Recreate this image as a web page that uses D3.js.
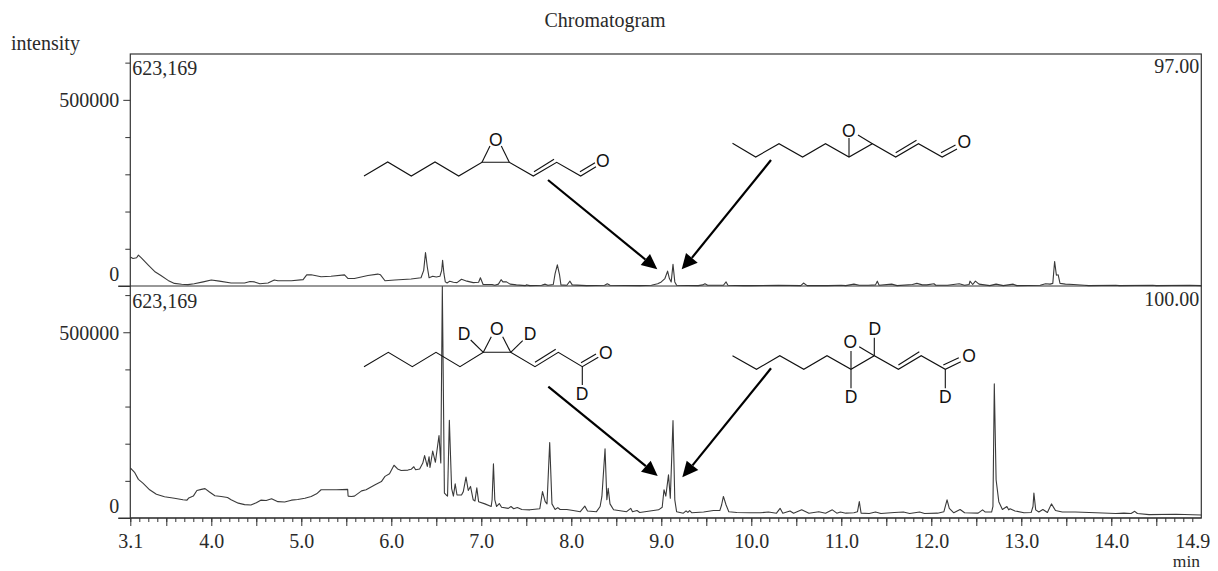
<!DOCTYPE html>
<html>
<head>
<meta charset="utf-8">
<title>Chromatogram</title>
<script src="https://d3js.org/d3.v7.min.js"></script>
<style>
    html, body { margin: 0; padding: 0; background: #fff; }
    svg { display: block; }
    text { font-family: "Liberation Serif", serif; font-size: 20px; fill: #2a2a2a; }
    .atom { font-family: "Liberation Sans", sans-serif; font-size: 17.5px; fill: #111; text-anchor: middle; dominant-baseline: central; }
</style>
</head>
<body>
<div id="chart"></div>
<script>
// [time in min, intensity in thousands]
const topTrace = [
    [3.10,78],[3.13,74],[3.17,76],[3.19,83],[3.22,76],[3.30,56],[3.37,39],[3.44,28],[3.52,15],[3.59,7],
    [3.67,4.5],[3.74,3.6],[3.81,6],[3.91,11],[4.00,16],[4.09,13],[4.22,8],[4.37,8],[4.43,12],[4.48,11],
    [4.54,6],[4.63,8],[4.70,16],[4.74,14],[4.89,14],[5.02,17],[5.06,30],[5.11,30],[5.22,25],[5.33,26],
    [5.48,30],[5.52,20],[5.59,20],[5.74,28],[5.85,32],[5.88,30],[5.93,14],[6.04,16],[6.22,19],[6.33,22],
    [6.36,42],[6.38,90],[6.40,51],[6.42,22],[6.46,26],[6.50,24],[6.54,26],[6.56,42],[6.57,69],[6.585,33],
    [6.60,11],[6.62,8],[6.65,13],[6.69,10],[6.73,9],[6.78,18],[6.84,13],[6.91,9],[6.97,10],[6.99,22],
    [7.02,4],[7.12,4],[7.15,2],[7.19,5],[7.22,17],[7.24,11],[7.28,11],[7.32,5],[7.39,3],[7.49,1],
    [7.50,3],[7.54,1],[7.67,2],[7.71,5],[7.74,2],[7.80,4],[7.82,33],[7.845,57],[7.87,29],[7.885,3],
    [7.95,2],[7.985,13],[8.01,3],[8.17,1],[8.37,2],[8.40,6],[8.43,2],[8.76,1],[8.89,2],[8.96,6],
    [9.00,11],[9.04,20],[9.07,40],[9.09,20],[9.11,11],[9.13,58],[9.15,11],[9.17,2],[9.41,1],[9.46,3],
    [9.485,6],[9.515,2],[9.69,2],[9.72,11],[9.74,2],[9.91,1],[10.00,1],[10.30,2],[10.55,1],[10.58,8],
    [10.62,1],[10.85,1],[11.00,2],[11.05,1],[11.14,5],[11.20,2],[11.30,2],[11.38,3],[11.40,13],[11.42,2],
    [11.56,5],[11.62,1],[11.79,4],[11.84,7],[11.90,3],[11.95,3],[12.03,6],[12.05,2],[12.18,2],[12.31,6],
    [12.37,2],[12.42,4],[12.43,13],[12.46,4],[12.49,13],[12.53,5],[12.65,1],[12.72,5],[12.80,1],[12.91,5],
    [12.95,1],[13.21,2],[13.27,6],[13.32,5],[13.35,7],[13.37,66],[13.39,29],[13.41,30],[13.43,7],[13.49,5],
    [13.58,4],[13.70,2],[13.75,1],[14.05,2],[14.09,1],[14.46,2],[14.50,1],[14.87,2],[15.00,1]
];

const bottomTrace = [
    [3.10,135],[3.15,122],[3.19,104],[3.24,94],[3.315,76],[3.39,64],[3.48,57],[3.59,53],[3.685,49],[3.73,48],
    [3.75,54],[3.80,59],[3.84,74],[3.89,77],[3.93,79],[3.98,70],[4.04,60],[4.11,58],[4.18,55],[4.22,49],
    [4.30,40],[4.37,36],[4.44,35],[4.50,41],[4.55,48],[4.61,47],[4.67,52],[4.74,44],[4.815,43],[4.89,48],
    [4.96,50],[5.04,53],[5.11,58],[5.17,65],[5.22,76],[5.28,76],[5.39,76],[5.515,77],[5.52,59],[5.555,58],
    [5.59,59],[5.67,73],[5.72,76],[5.815,89],[5.89,98],[5.93,112],[5.98,119],[6.03,142],[6.07,132],[6.11,128],
    [6.185,129],[6.22,131],[6.25,138],[6.27,130],[6.315,132],[6.35,148],[6.37,168],[6.40,139],[6.42,165],[6.43,136],
    [6.46,180],[6.49,150],[6.53,222],[6.55,148],[6.567,623.169],[6.59,67],[6.61,62],[6.625,59],[6.645,263],[6.67,80],
    [6.69,59],[6.71,92],[6.73,62],[6.78,62],[6.80,71],[6.83,110],[6.855,74],[6.88,85],[6.91,49],[6.93,46],
    [6.95,81],[6.97,44],[7.04,38],[7.11,31],[7.12,49],[7.135,146],[7.15,49],[7.17,31],[7.20,39],[7.225,29],
    [7.30,26],[7.33,31],[7.36,25],[7.40,28],[7.45,23],[7.54,22],[7.65,25],[7.68,71],[7.71,44],[7.73,38],
    [7.76,203],[7.785,38],[7.82,23],[7.85,28],[7.875,23],[7.95,23],[8.02,20],[8.10,17],[8.15,32],[8.18,19],
    [8.28,17],[8.32,31],[8.34,58],[8.375,186],[8.395,49],[8.41,80],[8.43,38],[8.47,22],[8.615,17],[8.66,26],
    [8.68,17],[8.73,20],[8.76,15],[8.97,22],[9.01,29],[9.03,76],[9.05,59],[9.08,116],[9.10,53],[9.13,262],
    [9.15,49],[9.17,17],[9.245,13],[9.275,19],[9.295,15],[9.315,20],[9.34,14],[9.47,16],[9.58,20],[9.65,20],
    [9.67,35],[9.69,58],[9.72,35],[9.75,17],[9.84,15],[9.99,14],[10.10,14],[10.19,16],[10.28,13],[10.32,26],
    [10.35,13],[10.43,19],[10.47,13],[10.56,22],[10.64,13],[10.75,17],[10.825,13],[10.90,22],[10.95,13],[10.99,16],
    [11.05,13],[11.14,14],[11.18,17],[11.20,44],[11.22,13],[11.31,12],[11.38,16],[11.44,12],[11.59,15],[11.69,16],
    [11.76,12],[11.87,16],[11.925,12],[12.07,13],[12.14,17],[12.175,49],[12.20,26],[12.25,14],[12.32,23],[12.37,14],
    [12.52,13],[12.57,22],[12.60,16],[12.67,16],[12.685,31],[12.70,361],[12.72,103],[12.75,44],[12.79,23],[12.84,31],
    [12.86,22],[12.875,25],[12.93,19],[13.03,14],[13.11,15],[13.13,31],[13.14,67],[13.16,22],[13.195,16],[13.24,23],
    [13.29,15],[13.335,38],[13.38,20],[13.455,16],[13.60,16],[13.83,14],[14.05,12],[14.14,13],[14.22,12],[14.26,18],
    [14.29,12],[14.42,9],[14.72,10],[15.00,8]
];

const xLabelTicks = [3.1, 4, 5, 6, 7, 8, 9, 10, 11, 12, 13, 14, 14.9];
const xHalfTicks = [3.1, 3.5, 4, 4.5, 5, 5.5, 6, 6.5, 7, 7.5, 8, 8.5, 9, 9.5, 10, 10.5, 11, 11.5, 12, 12.5, 13, 13.5, 14, 14.5];
const xMinorTicks = d3.range(31, 150).map(d => d / 10);
const yMinorTicks = [100, 200, 300, 400, 600];
const yLabelTicks = [0, 500];
const maxIntensity = 623.169;
const panels = [
    { trace: topTrace, base: "623,169", pct: "97.00", top: 54, bottom: 286 },
    { trace: bottomTrace, base: "623,169", pct: "100.00", top: 286.5, bottom: 518 }
];

// skeletal formulas and arrows are page annotations, in page pixels
const molecules = [
    {
        bonds: [
            [[364,176],[387.7,162],[411.3,176],[435,162],[458.7,176],[482,162.3],[509.3,162.3],[533.3,176],[556.7,162.3],[580.7,176],[596,166.7]],
            [[482,162.3],[490,146]], [[509.3,162.3],[501.3,146]],
            [[534,171.7],[554,159.3]], [[580,171.7],[595,162.7]]
        ],
        atoms: [["O",495.7,140],["O",602.7,161.3]]
    },
    {
        bonds: [
            [[732.5,143.3],[755.7,157],[779,143.7],[802.6,157],[825.5,143.7],[849,157],[872.4,143.7],[895.7,157],[918.5,143.7],[942.2,157],[957,149]],
            [[849,157],[849,138]], [[872.4,143.7],[858,135]],
            [[895.7,152.7],[916.5,140.3]], [[941,152.7],[955.5,145]]
        ],
        atoms: [["O",848.8,131],["O",964.3,142]]
    },
    {
        bonds: [
            [[364,366.7],[388.3,352.3],[412.3,366.7],[436,352.3],[460,366.7],[483.3,352.3],[510.7,352.3],[535,366.7],[558.3,352.3],[582.3,366.7],[598.3,357.3]],
            [[483.3,352.3],[491.3,336.7]], [[510.7,352.3],[502.7,336.7]],
            [[483.3,352.3],[470.7,340]], [[510.7,352.3],[522.7,340.7]],
            [[535,362.3],[555.7,349.3]], [[581,362.7],[596,354]], [[582.3,366.7],[582.3,385]]
        ],
        atoms: [["O",496.7,329.3],["D",464,334],["D",530,334],["O",605.7,353.3],["D",582,394]]
    },
    {
        bonds: [
            [[732.5,355.7],[756.5,369.3],[779.8,355.7],[803.8,369.3],[827,355.7],[851,369.3],[874.3,355.7],[898.4,369.3],[921.2,355.7],[945.3,369.3],[960.8,361.7]],
            [[851,369.3],[851,351]], [[874.3,355.7],[859.2,346.7]],
            [[874.3,355.7],[874.3,337.7]], [[851,369.3],[851,388.3]],
            [[898.4,365],[919.3,351.7]], [[943.3,365],[958.8,357.7]], [[945.3,369.3],[945.3,388.3]]
        ],
        atoms: [["O",850.3,342.3],["D",874.7,329],["D",851,397.3],["O",969,356.3],["D",945.3,397.3]]
    }
];

const arrows = [
    { from: [548,180], tip: [657.3,269.3], wingA: [650,254], wingB: [640.7,265] },
    { from: [771,160], tip: [681.7,269.3], wingA: [686,253], wingB: [697.7,262.7] },
    { from: [548.3,386.7], tip: [657.7,476], wingA: [650.7,460.7], wingB: [641,471.7] },
    { from: [771,368.3], tip: [682.3,477.3], wingA: [686.7,460.7], wingB: [698.3,470] }
];

const width = 1218;
const height = 571;
const frameLeft = 130.3;
const frameRight = 1201.3;
const inkColor = "#333";

const svg = d3.select("#chart").append("svg").attr("width", width).attr("height", height);
const xScale = d3.scaleLinear().domain([3.1, 15.0]).range([frameLeft, frameRight]);

function drawPanel(panel) {
    const yScale = d3.scaleLinear().domain([0, maxIntensity]).range([panel.bottom, panel.top]);
    const g = svg.append("g");

    g.append("path")
        .datum(panel.trace)
        .attr("fill", "none")
        .attr("stroke", "#3a3a3a")
        .attr("stroke-width", 1.1)
        .attr("stroke-linejoin", "round")
        .attr("d", d3.line().x(d => xScale(d[0])).y(d => yScale(d[1])));

    const minor = g.append("g").attr("transform", `translate(${frameLeft},0)`)
        .call(d3.axisLeft(yScale).tickValues(yMinorTicks).tickSize(5).tickFormat(""));
    minor.select(".domain").remove();

    const major = g.append("g").attr("transform", `translate(${frameLeft},0)`)
        .call(d3.axisLeft(yScale).tickValues(yLabelTicks).tickSize(7).tickPadding(4).tickFormat(d => d * 1000));
    major.select(".domain").remove();
    major.selectAll("text")
        .style("font-family", '"Liberation Serif", serif')
        .style("font-size", "20px")
        .attr("fill", "#2a2a2a")
        .attr("dy", d => d === 0 ? "-0.28em" : "0.34em");
    major.selectAll("line").filter(d => d === 0).attr("x2", -12);
    g.selectAll(".tick line").attr("stroke", inkColor);

    g.append("text").attr("x", frameLeft + 2).attr("y", panel.top + 21).text(panel.base);
    g.append("text").attr("x", frameRight - 2).attr("y", panel.top + 19).attr("text-anchor", "end").text(panel.pct);
}

function drawFrame() {
    const last = panels[panels.length - 1];
    svg.append("rect")
        .attr("x", frameLeft).attr("y", panels[0].top)
        .attr("width", frameRight - frameLeft).attr("height", last.bottom - panels[0].top)
        .attr("fill", "none").attr("stroke", inkColor).attr("stroke-width", 1.2);
    panels.forEach(p => {
        svg.append("line")
            .attr("x1", frameLeft - 12).attr("x2", frameRight)
            .attr("y1", p.bottom).attr("y2", p.bottom)
            .attr("stroke", inkColor).attr("stroke-width", 1.2);
    });
}

function drawXAxis() {
    const axisY = panels[1].bottom;
    const minor = svg.append("g").attr("transform", `translate(0,${axisY})`)
        .call(d3.axisBottom(xScale).tickValues(xMinorTicks).tickSize(4).tickFormat(""));
    minor.select(".domain").remove();
    minor.selectAll("line").attr("stroke", inkColor);

    const half = svg.append("g").attr("transform", `translate(0,${axisY})`)
        .call(d3.axisBottom(xScale).tickValues(xHalfTicks).tickSize(8).tickFormat(""));
    half.select(".domain").remove();
    half.selectAll("line").attr("stroke", inkColor);

    const labels = svg.append("g").attr("transform", `translate(0,${axisY})`)
        .call(d3.axisBottom(xScale).tickValues(xLabelTicks).tickSize(0).tickPadding(15.5).tickFormat(d3.format(".1f")));
    labels.select(".domain").remove();
    labels.selectAll("text")
        .style("font-family", '"Liberation Serif", serif')
        .style("font-size", "20px")
        .attr("fill", "#2a2a2a");
}

function drawMolecules() {
    const line = d3.line();
    molecules.forEach(m => {
        const g = svg.append("g");
        g.selectAll("path").data(m.bonds).join("path")
            .attr("d", d => line(d))
            .attr("fill", "none").attr("stroke", "#111").attr("stroke-width", 1.1);
        g.selectAll("text").data(m.atoms).join("text")
            .attr("class", "atom")
            .attr("x", d => d[1]).attr("y", d => d[2])
            .text(d => d[0]);
    });
}

function drawArrows() {
    arrows.forEach(a => {
        svg.append("line")
            .attr("x1", a.from[0]).attr("y1", a.from[1])
            .attr("x2", (a.wingA[0] + a.wingB[0]) / 2).attr("y2", (a.wingA[1] + a.wingB[1]) / 2)
            .attr("stroke", "#000").attr("stroke-width", 2.2);
        svg.append("path")
            .attr("d", d3.line()([a.tip, a.wingA, a.wingB]) + "Z")
            .attr("fill", "#000");
    });
}

panels.forEach(drawPanel);
drawFrame();
drawXAxis();
drawMolecules();
drawArrows();

svg.append("text").attr("x", 605).attr("y", 27).attr("text-anchor", "middle").text("Chromatogram");
svg.append("text").attr("x", 11).attr("y", 50).text("intensity");
svg.append("text").attr("x", 1200).attr("y", 567).attr("text-anchor", "end").style("font-size", "17.5px").text("min");
</script>
</body>
</html>
